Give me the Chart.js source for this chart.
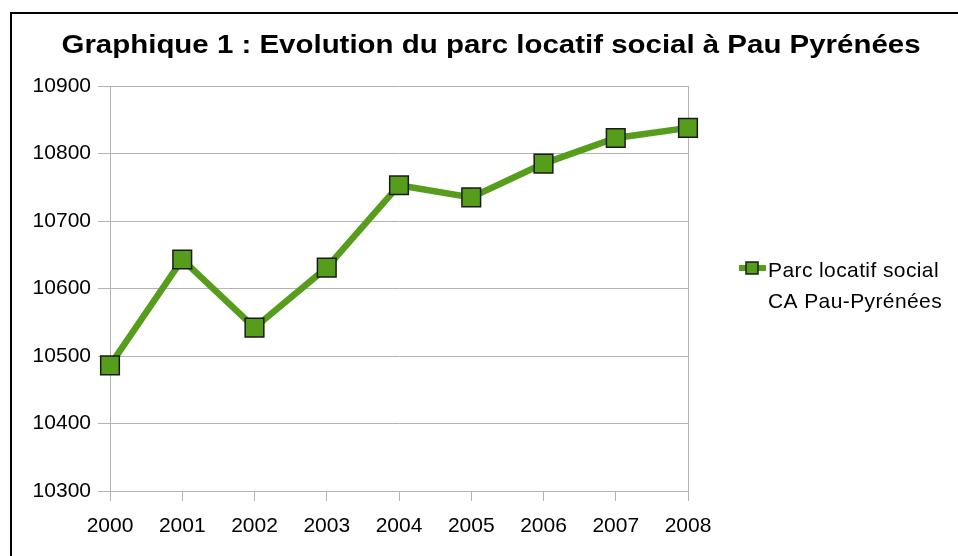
<!DOCTYPE html>
<html>
<head>
<meta charset="utf-8">
<script src="https://cdn.jsdelivr.net/npm/chart.js@4/dist/chart.umd.min.js"></script>
<style>
  html, body { margin: 0; padding: 0; background: #fff; }
  #wrap { width: 958px; height: 556px; }
</style>
</head>
<body>
<div id="wrap"><canvas id="parcChart" width="958" height="556"></canvas></div>
<script>
// Data
const years = ['2000', '2001', '2002', '2003', '2004', '2005', '2006', '2007', '2008'];
const parcValues = [10486, 10643, 10542, 10631, 10753, 10735, 10785, 10823, 10838];
const yTicks = [10300, 10400, 10500, 10600, 10700, 10800, 10900];
const chartTitle = 'Graphique 1 : Evolution du parc locatif social à Pau Pyrénées';
const legendLines = ['Parc locatif social', 'CA Pau-Pyrénées'];

const green = '#579d1c';
const gridGray = '#b3b3b3';
const fontFamily = '"Liberation Sans", Arial, sans-serif';

// frame, title and the two-line legend
const decorPlugin = {
  id: 'decor',
  afterDraw(chart) {
    const ctx = chart.ctx;
    ctx.save();
    // outer frame (left and top only)
    ctx.strokeStyle = '#000';
    ctx.lineWidth = 2;
    ctx.beginPath();
    ctx.moveTo(11, chart.height);
    ctx.lineTo(11, 13);
    ctx.lineTo(chart.width, 13);
    ctx.stroke();

    // title, stretched a bit wider like the original
    ctx.fillStyle = '#000';
    ctx.font = 'bold 25px ' + fontFamily;
    ctx.textAlign = 'center';
    ctx.textBaseline = 'alphabetic';
    const w = ctx.measureText(chartTitle).width;
    ctx.save();
    ctx.translate(491, 53);
    ctx.scale(859 / w, 1);
    ctx.fillText(chartTitle, 0, 0);
    ctx.restore();

    // legend
    const ds = chart.data.datasets[0];
    const lx = 752, ly = 268;
    ctx.strokeStyle = ds.borderColor;
    ctx.lineWidth = 6;
    ctx.beginPath();
    ctx.moveTo(lx - 13, ly);
    ctx.lineTo(lx + 14, ly);
    ctx.stroke();
    ctx.fillStyle = ds.pointBackgroundColor;
    ctx.strokeStyle = ds.pointBorderColor;
    ctx.lineWidth = 1.5;
    ctx.fillRect(lx - 6, ly - 6, 12, 12);
    ctx.strokeRect(lx - 6, ly - 6, 12, 12);

    ctx.fillStyle = '#000';
    ctx.font = '21px ' + fontFamily;
    ctx.letterSpacing = '0.4px';
    ctx.textAlign = 'left';
    ctx.textBaseline = 'middle';
    legendLines.forEach(function (line, i) {
      ctx.fillText(line, 768, 271 + i * 31);
    });
    ctx.restore();
  }
};

new Chart(document.getElementById('parcChart').getContext('2d'), {
  type: 'line',
  data: {
    labels: years,
    datasets: [{
      label: legendLines.join(' '),
      data: parcValues,
      borderColor: green,
      borderWidth: 6.5,
      tension: 0,
      pointStyle: 'rect',
      pointRadius: 13.2,
      pointHoverRadius: 13.2,
      pointBackgroundColor: green,
      pointBorderColor: '#1a1a1a',
      pointBorderWidth: 1.5
    }]
  },
  options: {
    responsive: false,
    animation: false,
    layout: { padding: { left: 24, right: 270, top: 86, bottom: 0 } },
    plugins: {
      legend: { display: false },
      title: { display: false },
      tooltip: { enabled: false }
    },
    scales: {
      x: {
        offset: false,
        grid: { drawOnChartArea: false, drawTicks: true, tickLength: 10, color: gridGray, lineWidth: 1 },
        border: { display: true, color: gridGray },
        ticks: { color: '#000', font: { family: fontFamily, size: 21 }, padding: 13, maxRotation: 0 },
        afterFit: function (s) { s.height = 65; }
      },
      y: {
        min: 10300,
        max: 10900,
        afterBuildTicks: function (s) { s.ticks = yTicks.map(function (v) { return { value: v }; }); },
        grid: { color: gridGray, lineWidth: 1, tickLength: 12 },
        border: { display: true, color: gridGray },
        ticks: {
          color: '#000',
          font: { family: fontFamily, size: 21 },
          padding: 7,
          callback: function (value) { return String(value); }
        },
        afterFit: function (s) { s.width = 86; }
      },
      yRight: {
        position: 'right',
        min: 10300,
        max: 10900,
        grid: { display: false, drawTicks: false },
        border: { display: true, color: gridGray },
        ticks: { display: false },
        afterFit: function (s) { s.width = 0; }
      }
    }
  },
  plugins: [decorPlugin]
});
</script>
</body>
</html>
